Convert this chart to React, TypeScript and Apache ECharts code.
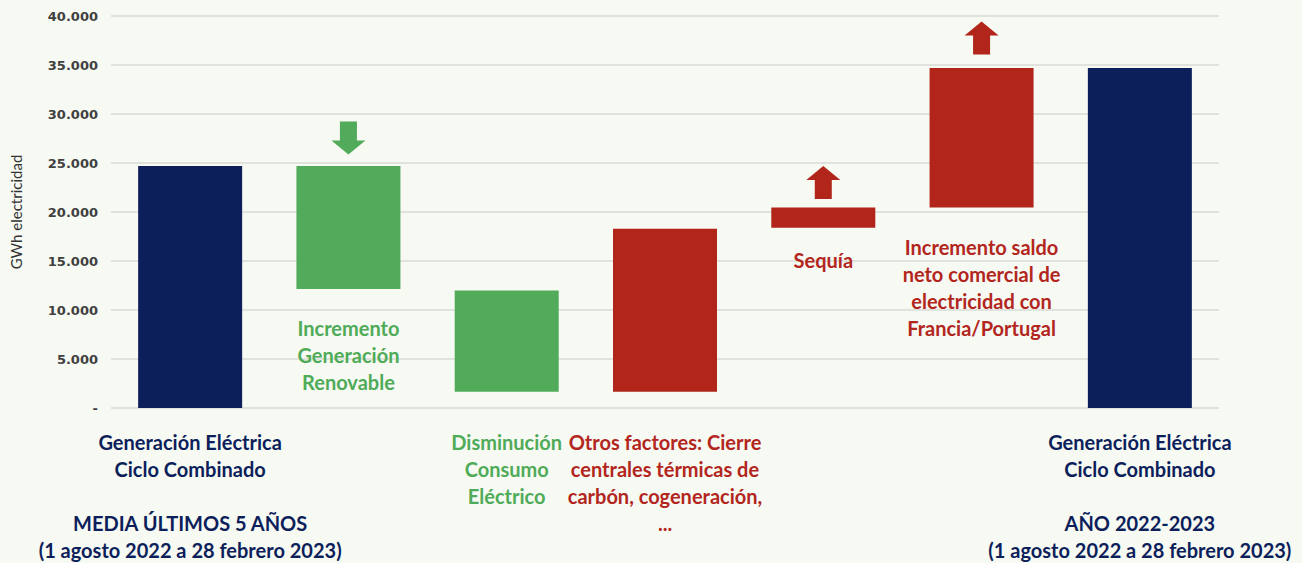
import React, { useEffect, useRef } from "react";
import * as echarts from "echarts";

const categories = [
  "Generación Eléctrica Ciclo Combinado (media)",
  "Incremento Generación Renovable",
  "Disminución Consumo Eléctrico",
  "Otros factores",
  "Sequía",
  "Incremento saldo neto comercial",
  "Generación Eléctrica Ciclo Combinado (2022-2023)",
];
const baseValues = [0, 12150, 1650, 1650, 18400, 20450, 0];
const topValues = [24700, 24700, 12000, 18300, 20450, 34700, 34700];
const axisTexts = [
  "Generación Eléctrica\nCiclo Combinado\n\nMEDIA ÚLTIMOS 5 AÑOS\n(1 agosto 2022 a 28 febrero 2023)",
  "",
  "Disminución\nConsumo\nEléctrico",
  "Otros factores: Cierre\ncentrales térmicas de\ncarbón, cogeneración,\n...",
  "",
  "",
  "Generación Eléctrica\nCiclo Combinado\n\nAÑO 2022-2023\n(1 agosto 2022 a 28 febrero 2023)",
];
const innerTexts = [
  "",
  "Incremento\nGeneración\nRenovable",
  "",
  "",
  "Sequía",
  "Incremento saldo\nneto comercial de\nelectricidad con\nFrancia/Portugal",
  "",
];
const kinds = ["total", "down", "down", "up", "up", "up", "total"];
const arrowKinds = ["", "down", "", "", "up", "up", ""];
const yTicks = [0, 5000, 10000, 15000, 20000, 25000, 30000, 35000, 40000];

const NAVY = "#0c1f5b";
const GREEN = "#52ab5a";
const RED = "#b2251b";
const GREEN_TXT = "#4fab58";
const RED_TXT = "#b2261d";
const BG = "#f7f9f3";

const colorOf = (k: string) => (k === "total" ? NAVY : k === "down" ? GREEN : RED);
const textColorOf = (k: string) => (k === "total" ? NAVY : k === "down" ? GREEN_TXT : RED_TXT);

const ARROW_UP = "path://M17,0 L34,14 L25.5,14 L25.5,33 L8.5,33 L8.5,14 L0,14 Z";

const fmt = (v: number) =>
  v === 0 ? "-" : String(v).replace(/\B(?=(\d{3})+(?!\d))/g, ".");

export default function App() {
  const ref = useRef<HTMLDivElement>(null);
  useEffect(() => {
    document.body.style.margin = "0";
    document.body.style.background = BG;
    const chart = echarts.init(ref.current!, null, { renderer: "svg" });
    const font = "Lato, 'Noto Sans', sans-serif";
    const deltas = topValues.map((t, i) => t - baseValues[i]);
    const labelDistances = [0, 26, 0, 0, 19, 26, 0];
    const arrowOffsets: Record<number, number> = { 1: -28, 4: -25, 5: -30 };
    const markData = arrowKinds
      .map((a, i) => ({ a, i }))
      .filter((d) => d.a)
      .map((d) => ({
        coord: [d.i, topValues[d.i]],
        symbol: ARROW_UP,
        symbolSize: [34, 33],
        symbolRotate: d.a === "down" ? 180 : 0,
        symbolOffset: [0, arrowOffsets[d.i]],
        itemStyle: { color: colorOf(kinds[d.i]) },
        label: { show: false },
      }));
    chart.setOption({
      animation: false,
      backgroundColor: BG,
      grid: { left: 108, right: 83, top: 16, bottom: 151, containLabel: false },
      xAxis: {
        type: "category",
        data: categories,
        axisLine: { show: false },
        axisTick: { show: false },
        axisLabel: {
          interval: 0,
          margin: 20,
          formatter: (_v: string, i: number) => axisTexts[i],
          color: (_v: string, i: number) => textColorOf(kinds[i]),
          fontFamily: font,
          fontWeight: "bold",
          fontSize: 20,
          lineHeight: 27,
        },
      },
      yAxis: {
        type: "value",
        min: 0,
        max: 40000,
        interval: 5000,
        name: "GWh electricidad",
        nameLocation: "middle",
        nameRotate: 90,
        nameGap: 88,
        nameTextStyle: { fontFamily: font, fontSize: 15, color: "#333333" },
        axisLine: { show: false },
        axisTick: { show: false },
        splitLine: { lineStyle: { color: "#d9dbd6", width: 1.5 } },
        axisLabel: {
          margin: 13,
          formatter: (v: number) => (yTicks.includes(v) ? fmt(v) : ""),
          fontFamily: "'DejaVu Sans', sans-serif",
          fontWeight: "bold",
          fontSize: 13,
          color: "#404040",
        },
      },
      series: [
        {
          type: "bar",
          stack: "w",
          barWidth: 104,
          itemStyle: { color: "transparent" },
          emphasis: { disabled: true },
          data: baseValues,
          silent: true,
        },
        {
          type: "bar",
          stack: "w",
          barWidth: 104,
          data: deltas.map((d, i) => ({
            value: d,
            itemStyle: { color: colorOf(kinds[i]) },
            label: {
              show: !!innerTexts[i],
              position: "bottom",
              distance: labelDistances[i],
              formatter: innerTexts[i],
              color: textColorOf(kinds[i]),
              fontFamily: font,
              fontWeight: "bold",
              fontSize: 20,
              lineHeight: 27,
            },
          })),
          markPoint: { silent: true, data: markData },
        },
      ],
    });
    return () => chart.dispose();
  }, []);
  return (
    <div
      ref={ref}
      style={{ position: "absolute", left: 0, top: 0, width: 1302, height: 563, background: BG }}
    />
  );
}
